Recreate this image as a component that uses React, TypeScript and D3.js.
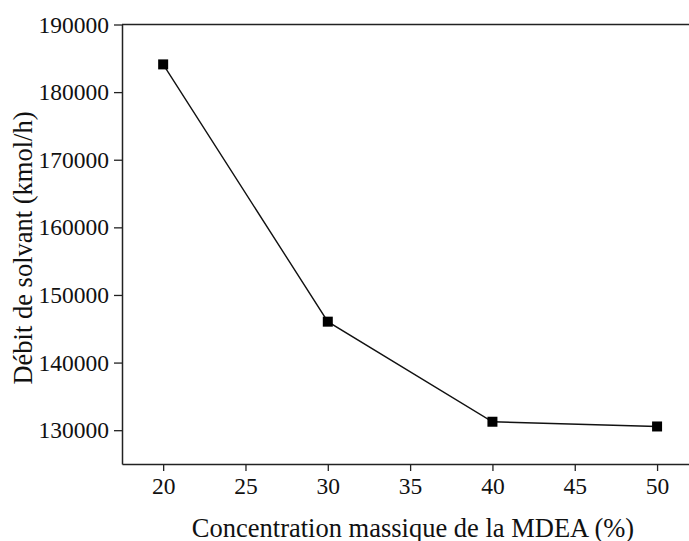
import { useEffect, useRef } from "react";
import * as d3 from "d3";

const concentrations = [20, 30, 40, 50];
const solventFlow = [184100, 146050, 131250, 130550];
const xTicks = [20, 25, 30, 35, 40, 45, 50];
const yTicks = [130000, 140000, 150000, 160000, 170000, 180000, 190000];

const xTitle = "Concentration massique de la MDEA (%)";
const yTitle = "Débit de solvant (kmol/h)";

export default function App() {
  const svgRef = useRef<SVGSVGElement>(null);
  const width = 689;
  const height = 541;
  const font = "'Liberation Serif', 'Times New Roman', serif";

  useEffect(() => {
    if (!svgRef.current) return;
    const svg = d3.select(svgRef.current);
    svg.selectAll("*").remove();

    const x = d3.scaleLinear().domain([17.5, 52]).range([122, 690]);
    const y = d3.scaleLinear().domain([125000, 190000]).range([464, 24.5]);

    // top frame line
    svg
      .append("line")
      .attr("x1", 122)
      .attr("x2", width)
      .attr("y1", y(190000))
      .attr("y2", y(190000))
      .attr("stroke", "#222")
      .attr("stroke-width", 1.5);

    // x axis
    svg
      .append("g")
      .attr("transform", `translate(0,${y(125000)})`)
      .call(d3.axisBottom(x).tickValues(xTicks).tickSize(7).tickSizeOuter(0).tickPadding(6))
      .call((g) => g.select(".domain").attr("stroke", "#222").attr("stroke-width", 1.5))
      .call((g) => g.selectAll(".tick line").attr("stroke", "#222").attr("stroke-width", 1.3))
      .call((g) =>
        g
          .selectAll("text")
          .style("font-size", "23.5px")
          .style("font-family", font)
          .attr("fill", "#111"),
      );

    // y axis
    svg
      .append("g")
      .attr("transform", `translate(${x(17.5)},0)`)
      .call(d3.axisLeft(y).tickValues(yTicks).tickSize(8).tickSizeOuter(0).tickPadding(5).tickFormat(d3.format("d")))
      .call((g) => g.select(".domain").attr("stroke", "#222").attr("stroke-width", 1.5))
      .call((g) => g.selectAll(".tick line").attr("stroke", "#222").attr("stroke-width", 1.3))
      .call((g) =>
        g
          .selectAll("text")
          .style("font-size", "23.5px")
          .style("font-family", font)
          .attr("fill", "#111"),
      );

    const pts = concentrations.map((c, i) => [c, solventFlow[i]] as [number, number]);

    svg
      .append("path")
      .datum(pts)
      .attr("fill", "none")
      .attr("stroke", "#111")
      .attr("stroke-width", 1.4)
      .attr(
        "d",
        d3
          .line<[number, number]>()
          .x((d) => x(d[0]))
          .y((d) => y(d[1])),
      );

    svg
      .selectAll("rect.pt")
      .data(pts)
      .enter()
      .append("rect")
      .attr("class", "pt")
      .attr("x", (d) => x(d[0]) - 5)
      .attr("y", (d) => y(d[1]) - 5)
      .attr("width", 10)
      .attr("height", 10)
      .attr("fill", "#000");

    // titles
    svg
      .append("text")
      .attr("x", 413)
      .attr("y", 536.5)
      .attr("text-anchor", "middle")
      .style("font-size", "26.5px")
      .style("font-family", font)
      .attr("fill", "#111")
      .text(xTitle);

    svg
      .append("text")
      .attr("transform", `translate(32,248) rotate(-90)`)
      .attr("text-anchor", "middle")
      .style("font-size", "26.5px")
      .style("font-family", font)
      .attr("fill", "#111")
      .text(yTitle);
  }, []);

  return (
    <svg
      ref={svgRef}
      width={width}
      height={height}
      style={{ position: "absolute", left: 0, top: 0, background: "#fff" }}
    />
  );
}
